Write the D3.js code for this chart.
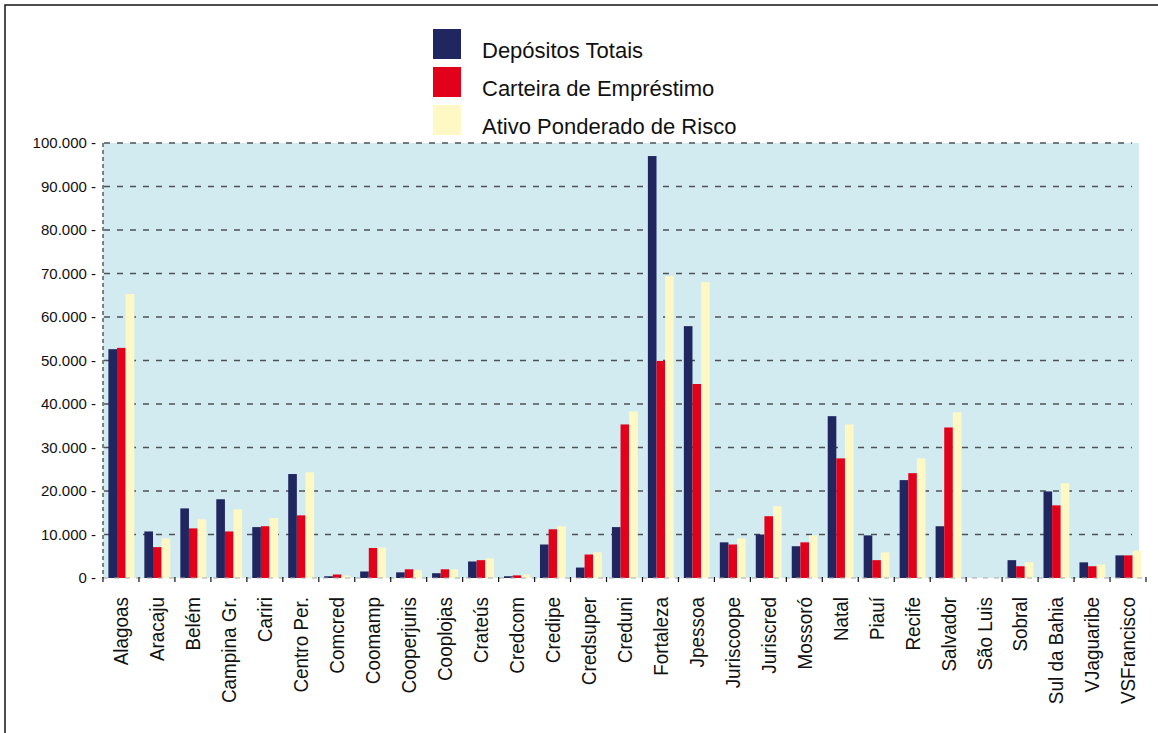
<!DOCTYPE html>
<html>
<head>
<meta charset="utf-8">
<script src="https://cdn.jsdelivr.net/npm/d3@7"></script>
<style>
  body { margin: 0; background: #fff; }
  svg { display: block; font-family: "Liberation Sans", Arial, sans-serif; }
</style>
</head>
<body>
<div id="chart"></div>
<script>
// cooperativas
var categories = ["Alagoas", "Aracaju", "Belém", "Campina Gr.", "Cariri", "Centro Per.", "Comcred",
  "Coomamp", "Cooperjuris", "Cooplojas", "Crateús", "Credcom", "Credipe", "Credsuper", "Creduni",
  "Fortaleza", "Jpessoa", "Juriscoope", "Juriscred", "Mossoró", "Natal", "Piauí", "Recife",
  "Salvador", "São Luis", "Sobral", "Sul da Bahia", "VJaguaribe", "VSFrancisco"];

var seriesNames = ["Depósitos Totais", "Carteira de Empréstimo", "Ativo Ponderado de Risco"];

var depositos = [52600, 10700, 16000, 18100, 11700, 23900, 400, 1500, 1300, 1100, 3800, 400, 7700, 2400, 11700,
  97000, 57900, 8200, 10000, 7300, 37200, 9800, 22500, 11900, 0, 4100, 19900, 3600, 5200];
var carteira = [52900, 7100, 11400, 10700, 11900, 14400, 800, 6900, 2000, 2000, 4100, 600, 11200, 5400, 35300,
  49900, 44600, 7700, 14200, 8200, 27500, 4100, 24100, 34600, 0, 2700, 16700, 2700, 5200];
var ativo = [65300, 9100, 13500, 15800, 13800, 24300, 600, 7000, 1800, 2000, 4500, 800, 11900, 5900, 38300,
  69400, 68000, 9100, 16500, 9800, 35300, 5900, 27500, 38100, 0, 3600, 21800, 3100, 6300];

var yTicks = [0, 10000, 20000, 30000, 40000, 50000, 60000, 70000, 80000, 90000, 100000];

var colors = ["#1f2660", "#e2001a", "#fef8c4"];

var width = 1158, height = 733;
var plotLeft = 103, plotRight = 1146, plotTop = 143, plotBottom = 578;

var ptBR = d3.formatLocale({ decimal: ",", thousands: ".", grouping: [3], currency: ["R$", ""] });
var fmt = ptBR.format(",");

var rows = categories.map(function (c, i) {
  return { name: c, values: [depositos[i], carteira[i], ativo[i]] };
});

var svg = d3.select("#chart").append("svg")
  .attr("width", width)
  .attr("height", height);

// moldura
svg.append("rect")
  .attr("x", 5).attr("y", 5)
  .attr("width", width + 20).attr("height", height + 20)
  .attr("fill", "none")
  .attr("stroke", "#222")
  .attr("stroke-width", 1.6);

var x0 = d3.scaleBand().domain(categories).range([plotLeft, plotRight]).padding(0);
var x1 = d3.scaleBand().domain(d3.range(3))
  .range([x0.bandwidth() * 0.15, x0.bandwidth() * 0.87]);
var y = d3.scaleLinear().domain([0, 100000]).range([plotBottom, plotTop]);

// fundo
svg.append("rect")
  .attr("x", plotLeft)
  .attr("y", y(100000))
  .attr("width", 1139 - plotLeft)
  .attr("height", y(0) - y(100000))
  .attr("fill", "#d2ebf1");

// linhas de grade
svg.append("g").selectAll("line")
  .data(yTicks.filter(function (d) { return d > 0; }))
  .enter().append("line")
  .attr("x1", 104).attr("x2", 1132)
  .attr("y1", function (d) { return y(d); })
  .attr("y2", function (d) { return y(d); })
  .attr("stroke", "#4d5256")
  .attr("stroke-width", 1.4)
  .attr("stroke-dasharray", "6,7");

// eixo y
var yAxis = d3.axisLeft(y).tickValues(yTicks).tickFormat(function (d) { return fmt(d) + " -"; })
  .tickSize(0).tickPadding(6);
var yg = svg.append("g")
  .attr("transform", "translate(" + 102 + ",0)")
  .call(yAxis);
yg.select(".domain").remove();
yg.selectAll("text")
  .attr("font-size", 15)
  .attr("font-family", "Liberation Sans, Arial, sans-serif")
  .attr("fill", "#111");

svg.append("line")
  .attr("x1", plotLeft).attr("x2", plotLeft)
  .attr("y1", y(100000)).attr("y2", y(0))
  .attr("stroke", "#444")
  .attr("stroke-width", 1.3)
  .attr("stroke-dasharray", "4,3");

// barras
var groups = svg.append("g").selectAll("g")
  .data(rows)
  .enter().append("g")
  .attr("transform", function (d) { return "translate(" + x0(d.name) + ",0)"; });

groups.selectAll("rect")
  .data(function (d) { return d.values; })
  .enter().append("rect")
  .attr("x", function (d, i) { return x1(i); })
  .attr("width", x1.bandwidth())
  .attr("y", function (d) { return y(d); })
  .attr("height", function (d) { return y(0) - y(d); })
  .attr("fill", function (d, i) { return colors[i]; });

// eixo x
svg.append("line")
  .attr("x1", plotLeft).attr("x2", plotRight)
  .attr("y1", plotBottom).attr("y2", plotBottom)
  .attr("stroke", "#aaa")
  .attr("stroke-dasharray", "5,6");

var tickPos = categories.map(function (c) { return x0(c); }).concat([plotRight]);
svg.append("g").selectAll("line")
  .data(tickPos)
  .enter().append("line")
  .attr("x1", function (d) { return d; })
  .attr("x2", function (d) { return d; })
  .attr("y1", plotBottom - 1)
  .attr("y2", plotBottom + 4)
  .attr("stroke", "#111")
  .attr("stroke-width", 1.2);

// rótulos (fonte levemente condensada)
svg.append("g").selectAll("text")
  .data(categories)
  .enter().append("text")
  .attr("transform", function (d) {
    return "translate(" + (x0(d) + x0.bandwidth() / 2) + "," + 597 + ") rotate(-90) scale(0.9,1)";
  })
  .attr("dy", "0.35em")
  .attr("text-anchor", "end")
  .attr("font-size", 21)
  .attr("fill", "#111")
  .text(function (d) { return d; });

// legenda
var legend = svg.append("g").selectAll("g")
  .data(seriesNames)
  .enter().append("g")
  .attr("transform", function (d, i) { return "translate(433," + (29 + i * 38) + ")"; });

legend.append("rect")
  .attr("width", 28)
  .attr("height", 30)
  .attr("fill", function (d, i) { return colors[i]; });

legend.append("text")
  .attr("x", 49)
  .attr("y", 29)
  .attr("font-size", 22)
  .attr("fill", "#111")
  .text(function (d) { return d; });
</script>
</body>
</html>
